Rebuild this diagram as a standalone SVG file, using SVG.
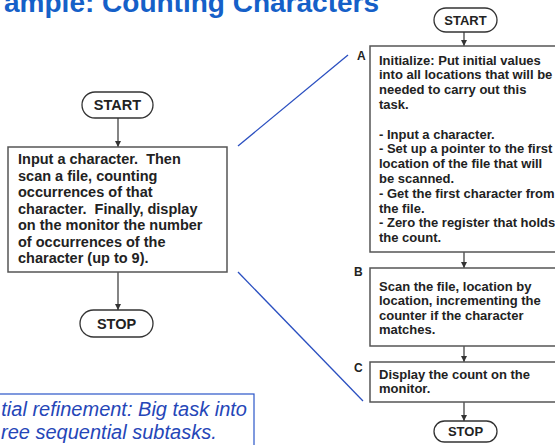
<svg xmlns="http://www.w3.org/2000/svg" width="555" height="445" viewBox="0 0 555 445">
  <style>
    .title { font-family: "Liberation Sans", Arial, sans-serif; font-weight: bold; font-size: 28px; fill: #1560c8; }
    .note { font-family: "Liberation Sans", Arial, sans-serif; font-style: italic; font-size: 20px; fill: #2546b8; }
    .box { fill: #ffffff; stroke: #555555; stroke-width: 1.5; }
    .pill { fill: #ffffff; stroke: #333333; stroke-width: 1.3; }
    .big { font-family: "Liberation Sans", Arial, sans-serif; font-weight: bold; font-size: 14.5px; fill: #222222; }
    .small { font-family: "Liberation Sans", Arial, sans-serif; font-weight: bold; font-size: 13px; fill: #222222; }
    .tag { font-family: "Liberation Sans", Arial, sans-serif; font-weight: bold; font-size: 12px; fill: #222222; }
    .flow { stroke: #333333; stroke-width: 1.2; fill: none; marker-end: url(#arrow); }
    .zoom { stroke: #2a4fc0; stroke-width: 1.3; fill: none; }
  </style>
  <defs>
    <marker id="arrow" viewBox="0 0 10 10" refX="10" refY="5" markerWidth="6" markerHeight="7" markerUnits="userSpaceOnUse" orient="auto">
      <path d="M0,0 L10,5 L0,10 Z" fill="#333333"/>
    </marker>
  </defs>

  <rect width="555" height="445" fill="#ffffff"/>

  <!-- heading -->
  <text class="title" x="379" y="12" text-anchor="end">ample: Counting Characters</text>

  <!-- caption box -->
  <g id="caption">
    <rect x="-10" y="394" width="264" height="60" fill="#ffffff" stroke="#2a55c8" stroke-width="1.2"/>
    <text class="note" x="247" y="416" text-anchor="end">tial refinement: Big task into</text>
    <text class="note" x="1" y="439">ree sequential subtasks.</text>
  </g>

  <!-- connectors -->
  <g id="connectors">
    <line class="flow" x1="118" y1="118" x2="118" y2="147"/>
    <line class="flow" x1="118" y1="272" x2="118" y2="310"/>
    <line class="flow" x1="464" y1="32" x2="464" y2="46"/>
    <line class="flow" x1="464" y1="252" x2="464" y2="268"/>
    <line class="flow" x1="464" y1="346" x2="464" y2="362"/>
    <line class="flow" x1="464" y1="402" x2="464" y2="421"/>
    <line class="zoom" x1="238" y1="146" x2="348" y2="55"/>
    <line class="zoom" x1="238" y1="272" x2="363" y2="401"/>
  </g>

  <!-- left chart -->
  <g id="start-left">
    <rect class="pill" x="82" y="92" width="71" height="26" rx="13"/>
    <text class="big" x="117.5" y="110" text-anchor="middle">START</text>
  </g>
  <g id="task">
    <rect class="box" x="8" y="147" width="219" height="125"/>
    <text class="big" xml:space="preserve"><tspan x="18" y="164">Input a character.  Then</tspan><tspan x="18" y="180.5">scan a file, counting</tspan><tspan x="18" y="197">occurrences of that</tspan><tspan x="18" y="213.5">character.  Finally, display</tspan><tspan x="18" y="230">on the monitor the number</tspan><tspan x="18" y="246.5">of occurrences of the</tspan><tspan x="18" y="263">character (up to 9).</tspan></text>
  </g>
  <g id="stop-left">
    <rect class="pill" x="80" y="310" width="73" height="27" rx="13.5"/>
    <text class="big" x="116.5" y="328.5" text-anchor="middle">STOP</text>
  </g>

  <!-- right chart -->
  <g id="start-right">
    <rect class="pill" x="434" y="8" width="63" height="24" rx="12"/>
    <text class="small" x="465.5" y="24.5" text-anchor="middle">START</text>
  </g>
  <g id="step-a">
    <text class="tag" x="357" y="60">A</text>
    <rect class="box" x="370" y="46" width="190" height="206"/>
    <text class="small"><tspan x="379" y="64.5">Initialize: Put initial values</tspan><tspan x="379" y="79.3">into all locations that will be</tspan><tspan x="379" y="94.1">needed to carry out this</tspan><tspan x="379" y="108.9">task.</tspan><tspan x="379" y="138.5">- Input a character.</tspan><tspan x="379" y="153.3">- Set up a pointer to the first</tspan><tspan x="379" y="168.1">location of the file that will</tspan><tspan x="379" y="182.9">be scanned.</tspan><tspan x="379" y="197.7">- Get the first character from</tspan><tspan x="379" y="212.5">the file.</tspan><tspan x="379" y="227.3">- Zero the register that holds</tspan><tspan x="379" y="242.1">the count.</tspan></text>
  </g>
  <g id="step-b">
    <text class="tag" x="354" y="276">B</text>
    <rect class="box" x="370" y="268" width="190" height="78"/>
    <text class="small"><tspan x="379" y="290.5">Scan the file, location by</tspan><tspan x="379" y="305">location, incrementing the</tspan><tspan x="379" y="319.5">counter if the character</tspan><tspan x="379" y="334">matches.</tspan></text>
  </g>
  <g id="step-c">
    <text class="tag" x="354" y="372">C</text>
    <rect class="box" x="370" y="362" width="190" height="40"/>
    <text class="small"><tspan x="379" y="378.5">Display the count on the</tspan><tspan x="379" y="393">monitor.</tspan></text>
  </g>
  <g id="stop-right">
    <rect class="pill" x="434" y="421" width="63" height="21" rx="10.5"/>
    <text class="small" x="465.5" y="436" text-anchor="middle">STOP</text>
  </g>
</svg>
